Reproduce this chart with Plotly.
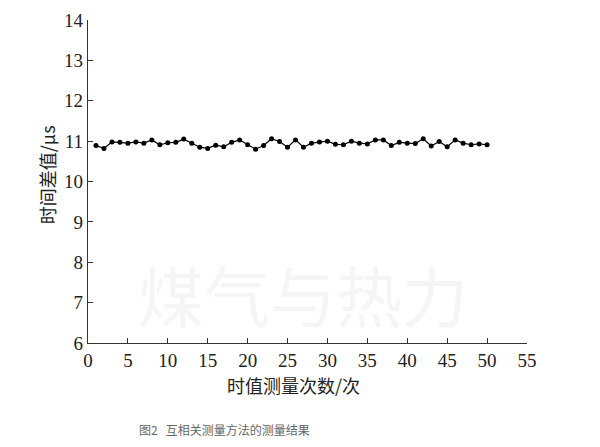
import plotly.graph_objects as go

# Data
measure_idx = list(range(1, 51))
time_diff_us = [
    10.89, 10.82, 10.98, 10.97, 10.95, 10.98, 10.95, 11.03, 10.91, 10.96,
    10.97, 11.05, 10.95, 10.85, 10.82, 10.90, 10.86, 10.97, 11.03, 10.91,
    10.80, 10.89, 11.06, 10.99, 10.85, 11.03, 10.85, 10.95, 10.98, 11.00,
    10.92, 10.91, 11.00, 10.95, 10.93, 11.03, 11.03, 10.89, 10.97, 10.95,
    10.94, 11.06, 10.88, 10.99, 10.86, 11.03, 10.95, 10.91, 10.93, 10.91,
]
x_ticks = list(range(0, 56, 5))
y_ticks = list(range(6, 15))

x_title = "时值测量次数/次"
y_title = "时间差值/μs"
caption = "图2   互相关测量方法的测量结果"
watermark = "煤气与热力"

fig = go.Figure()
fig.add_trace(go.Scatter(
    x=measure_idx, y=time_diff_us, mode="lines+markers",
    line=dict(color="black", width=1.2),
    marker=dict(color="black", size=5),
    showlegend=False,
))

tick_font = dict(family="Liberation Serif", size=19, color="#222")
fig.update_xaxes(
    range=[0, 55], tickvals=x_ticks, ticks="inside", ticklen=5, tickcolor="#333",
    showline=True, linecolor="#333", linewidth=1.2, showgrid=False, zeroline=False,
    tickfont=tick_font, automargin=False,
)
fig.update_yaxes(
    range=[6, 14], tickvals=y_ticks, ticks="inside", ticklen=5, tickcolor="#333",
    showline=True, linecolor="#333", linewidth=1.2, showgrid=False, zeroline=False,
    tickfont=tick_font, automargin=False,
)

fig.update_layout(
    width=592, height=439,
    margin=dict(l=80, r=73, t=12, b=104),
    plot_bgcolor="white", paper_bgcolor="white",
    annotations=[
        dict(text=watermark, xref="paper", yref="paper", x=0.49, y=0.0,
             xanchor="center", yanchor="bottom",
             showarrow=False, font=dict(family="Noto Sans CJK SC", size=66, color="rgba(200,200,200,0.18)")),
        dict(text=y_title, xref="paper", yref="paper", x=-0.093, y=0.52, textangle=-90,
             xanchor="center", yanchor="middle",
             showarrow=False, font=dict(family="Noto Sans CJK SC", size=18, color="#222")),
        dict(text=x_title, xref="paper", yref="paper", x=0.469, y=-0.13,
             xanchor="center", yanchor="middle",
             showarrow=False, font=dict(family="Noto Sans CJK SC", size=18, color="#222")),
        dict(text=caption, xref="paper", yref="paper", x=0.112, xanchor="left", y=-0.269,
             yanchor="middle",
             showarrow=False, font=dict(family="Noto Sans CJK SC", size=12, color="#666")),
    ],
)

fig.write_html("out.html")
